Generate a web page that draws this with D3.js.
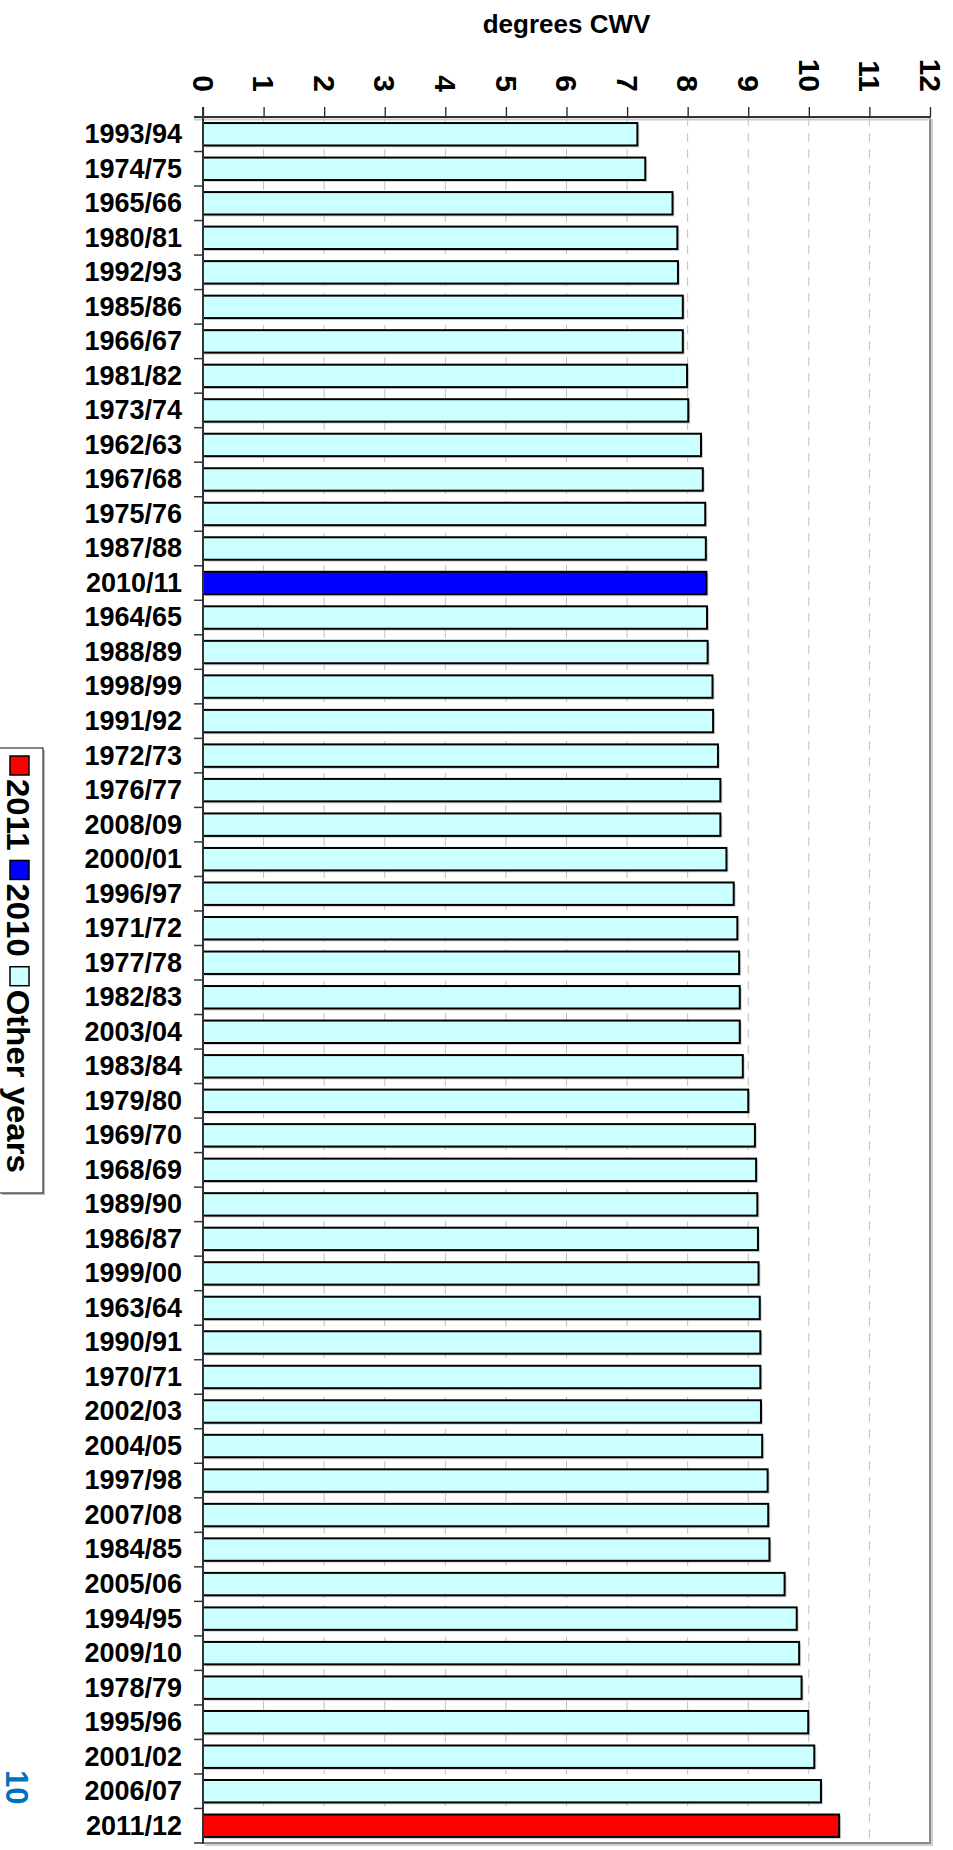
<!DOCTYPE html>
<html>
<head>
<meta charset="utf-8">
<script src="https://cdn.jsdelivr.net/npm/d3@7/dist/d3.min.js"></script>
<style>
  html, body { margin: 0; padding: 0; background: #fff; }
  svg { display: block; font-family: "Liberation Sans", Arial, Helvetica, sans-serif; }
</style>
</head>
<body>
<svg id="chart" width="953" height="1850"></svg>
<script>
const categories = ["1993/94","1974/75","1965/66","1980/81","1992/93","1985/86","1966/67","1981/82","1973/74","1962/63",
  "1967/68","1975/76","1987/88","2010/11","1964/65","1988/89","1998/99","1991/92","1972/73","1976/77",
  "2008/09","2000/01","1996/97","1971/72","1977/78","1982/83","2003/04","1983/84","1979/80","1969/70",
  "1968/69","1989/90","1986/87","1999/00","1963/64","1990/91","1970/71","2002/03","2004/05","1997/98",
  "2007/08","1984/85","2005/06","1994/95","2009/10","1978/79","1995/96","2001/02","2006/07","2011/12"];
const values = [7.17,7.30,7.75,7.83,7.84,7.92,7.92,7.99,8.01,8.22,
  8.25,8.29,8.30,8.31,8.32,8.33,8.41,8.42,8.50,8.54,
  8.54,8.64,8.76,8.82,8.85,8.86,8.86,8.91,9.00,9.11,
  9.13,9.15,9.16,9.17,9.19,9.20,9.20,9.21,9.23,9.32,
  9.33,9.35,9.60,9.80,9.84,9.88,9.99,10.09,10.20,10.50];
const seriesGroup = ["2011","2010","Other years"];
const groupColors = ["#ff0000","#0000ff","#ccffff"];
const groupOf = c => c === "2011/12" ? "2011" : (c === "2010/11" ? "2010" : "Other years");
const xTicks = [0,1,2,3,4,5,6,7,8,9,10,11,12];
const axisTitle = "degrees CWV";
const pageNumber = "10";

(function () {
const svg = d3.select("#chart");
const mLeft = 203, mRight = 930, mTop = 117, mBottom = 1843;

const x = d3.scaleLinear().domain([0, 12]).range([mLeft, mRight]);
const y = d3.scaleBand().domain(categories).range([mTop, mBottom]).paddingInner(0.35).paddingOuter(0.175);
const color = d3.scaleOrdinal().domain(seriesGroup).range(groupColors);

// gridlines (dashed)
svg.append("g").selectAll("line").data(xTicks.filter(t => t > 0 && t < 12)).join("line")
  .attr("x1", d => x(d)).attr("x2", d => x(d))
  .attr("y1", mTop).attr("y2", mBottom)
  .attr("stroke", "#c0c0c0").attr("stroke-width", 1).attr("stroke-dasharray", "9,7");

// frame shadow + frame (right and bottom)
svg.append("path").attr("d", `M${mRight + 2},${mTop + 2}V${mBottom + 2}H${mLeft + 2}`)
  .attr("fill", "none").attr("stroke", "#d0d0d0").attr("stroke-width", 2);
svg.append("path").attr("d", `M${mRight},${mTop}V${mBottom}H${mLeft}`)
  .attr("fill", "none").attr("stroke", "#8a8a8a").attr("stroke-width", 2);

// bar shadows
svg.append("g").selectAll("rect").data(categories).join("rect")
  .attr("x", x(0) + 2)
  .attr("y", (d) => y(d) + 2)
  .attr("width", (d, i) => x(values[i]) - x(0))
  .attr("height", y.bandwidth())
  .attr("fill", "#aaaaaa").attr("opacity", 0.5);

// bars
svg.append("g").selectAll("rect").data(categories).join("rect")
  .attr("x", x(0))
  .attr("y", d => y(d))
  .attr("width", (d, i) => x(values[i]) - x(0))
  .attr("height", y.bandwidth())
  .attr("fill", d => color(groupOf(d)))
  .attr("stroke", "#000").attr("stroke-width", 2);

// top axis
const topAxis = d3.axisTop(x).tickValues(xTicks).tickSize(10).tickSizeOuter(0).tickFormat(d3.format("d"));
const gTop = svg.append("g").attr("transform", `translate(0,${mTop})`).call(topAxis);
gTop.select(".domain").remove();
gTop.append("line").attr("x1", mLeft - 9).attr("x2", mRight).attr("y1", 2.5).attr("y2", 2.5)
  .attr("stroke", "#cccccc").attr("stroke-width", 2);
gTop.append("line").attr("x1", mLeft - 9).attr("x2", mRight).attr("y1", 0).attr("y2", 0)
  .attr("stroke", "#333").attr("stroke-width", 2);
gTop.selectAll(".tick line").attr("stroke", "#222").attr("stroke-width", 1.3);
gTop.selectAll(".tick text")
  .attr("fill", "#000").attr("font-size", 30).attr("font-weight", "bold")
  .attr("text-anchor", "end")
  .attr("transform", "translate(0,-25) rotate(90)")
  .attr("x", 0).attr("y", 0).attr("dy", "0.36em");

// left axis (ticks at band boundaries)
const boundaries = categories.map(c => y(c) - y.step() * y.paddingInner() / 2).slice(1).concat([mBottom]);
const gLeft = svg.append("g");
gLeft.append("line").attr("x1", mLeft).attr("x2", mLeft).attr("y1", mTop - 10).attr("y2", mBottom + 1)
  .attr("stroke", "#333").attr("stroke-width", 2);
gLeft.selectAll("line.tk").data(boundaries).join("line").attr("class", "tk")
  .attr("x1", mLeft - 9).attr("x2", mLeft).attr("y1", d => d).attr("y2", d => d)
  .attr("stroke", "#333").attr("stroke-width", 1.5);
gLeft.selectAll("text").data(categories).join("text")
  .attr("x", 182).attr("y", d => y(d) + y.bandwidth() / 2)
  .attr("dy", "0.33em").attr("text-anchor", "end")
  .attr("font-size", 27).attr("font-weight", "bold").attr("fill", "#000")
  .text(d => d);

// title
svg.append("text").attr("x", (mLeft + mRight) / 2).attr("y", 33)
  .attr("text-anchor", "middle").attr("font-size", 26).attr("font-weight", "bold")
  .text(axisTitle);

// legend
const lg = svg.append("g");
lg.append("rect").attr("x", 2).attr("y", 750).attr("width", 43).attr("height", 445).attr("fill", "#bbb");
lg.append("rect").attr("x", -1).attr("y", 748).attr("width", 44).attr("height", 445)
  .attr("fill", "#fff").attr("stroke", "#333").attr("stroke-width", 1.2);
const stretch = 1.08, fs = 30.5;
let cursor = 756;
seriesGroup.forEach((g, i) => {
  lg.append("rect").attr("x", 10).attr("y", cursor).attr("width", 19).attr("height", 19)
    .attr("fill", color(g)).attr("stroke", "#000").attr("stroke-width", 1.5);
  const t = lg.append("text").attr("transform", `translate(7,${cursor + 23}) rotate(90) scale(${stretch},1)`)
    .attr("font-size", fs).attr("font-weight", "bold")
    .text(g);
  const len = t.node().getComputedTextLength() * stretch;
  cursor += 23 + len + 10;
});

// page number
svg.append("text").attr("transform", "translate(6,1770) rotate(90)")
  .attr("font-size", 31).attr("font-weight", "bold").attr("fill", "#0070c0")
  .text(pageNumber);
})();
</script>
</body>
</html>
